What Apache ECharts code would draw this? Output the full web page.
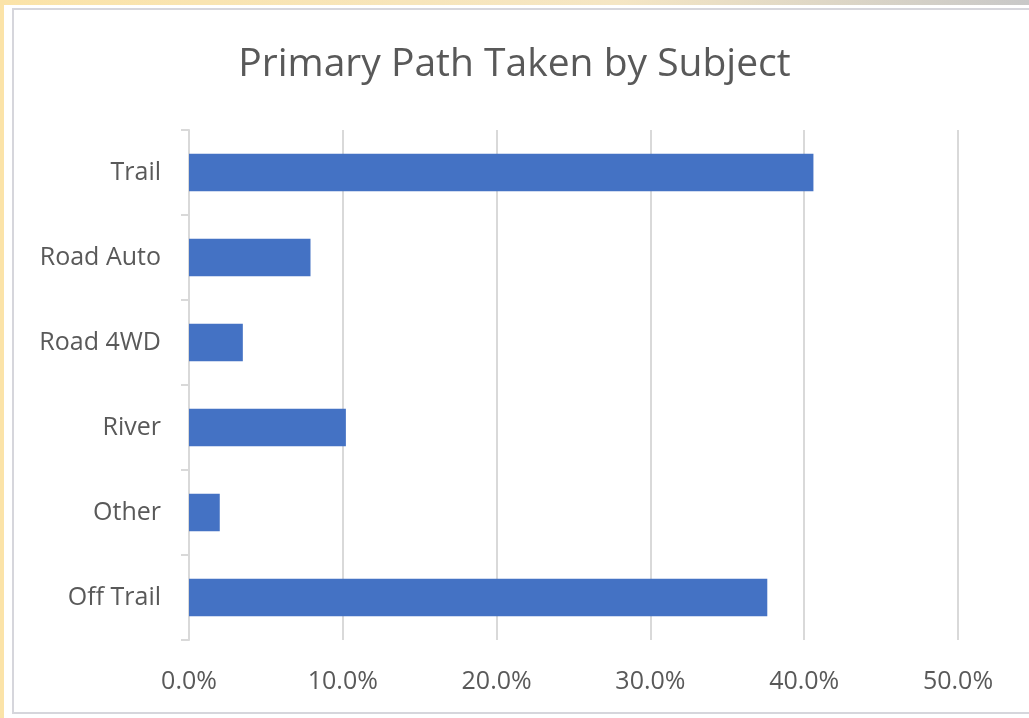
<!DOCTYPE html>
<html>
<head>
<meta charset="utf-8">
<script src="https://cdn.jsdelivr.net/npm/echarts@6/dist/echarts.min.js"></script>
<style>
  html, body { margin: 0; padding: 0; width: 1029px; height: 718px; overflow: hidden; }
  body { background: linear-gradient(to right, #fbe3a8 0px, #fbe3a8 4px, #ffffff 4px); position: relative; }
  #topband { position: absolute; left: 0; top: 0; width: 1029px; height: 5px;
    background: linear-gradient(to right, #fbe3a8 0%, #f5e6c4 60%, #c8c8c8 100%); }
  #frame { position: absolute; left: 12px; top: 8px; width: 1020px; height: 706px;
    border: 2px solid #d6d6dc; box-sizing: border-box; background: #fff; }
  #chart { position: absolute; left: 0; top: 0; width: 1029px; height: 718px; }
</style>
</head>
<body>
<div id="topband"></div>
<div id="frame"></div>
<div id="chart"></div>
<script>
const categories = ["Trail", "Road Auto", "Road 4WD", "River", "Other", "Off Trail"];
const shares = [40.6, 7.9, 3.5, 10.2, 2.0, 37.6];
const xTicks = { min: 0, max: 50, interval: 10 };

const chart = echarts.init(document.getElementById('chart'), null, { renderer: 'canvas' });
chart.setOption({
  backgroundColor: 'transparent',
  animation: false,
  title: {
    text: 'Primary Path Taken by Subject',
    left: 'center',
    top: 40,
    textStyle: { fontFamily: 'Open Sans', fontSize: 39, fontWeight: 'normal', color: '#595959' }
  },
  grid: { left: 189, right: 71, top: 130, bottom: 78, containLabel: false },
  xAxis: {
    type: 'value',
    min: xTicks.min, max: xTicks.max, interval: xTicks.interval,
    axisLine: { show: false },
    axisTick: { show: false },
    splitLine: { show: true, lineStyle: { color: '#d9d9d9', width: 2 } },
    axisLabel: {
      margin: 29,
      color: '#595959',
      fontFamily: 'Open Sans',
      fontSize: 25,
      formatter: v => v.toFixed(1) + '%'
    }
  },
  yAxis: {
    type: 'category',
    data: categories,
    inverse: true,
    axisLine: { show: true, lineStyle: { color: '#d9d9d9', width: 2 } },
    axisTick: { show: true, length: 8, lineStyle: { color: '#d9d9d9', width: 2 } },
    axisLabel: { margin: 28, color: '#595959', fontFamily: 'Open Sans', fontSize: 25, padding: [3, 0, 0, 0] }
  },
  series: [{
    type: 'bar',
    data: shares,
    barCategoryGap: '56%',
    itemStyle: { color: '#4472c4' }
  }]
});
</script>
</body>
</html>
